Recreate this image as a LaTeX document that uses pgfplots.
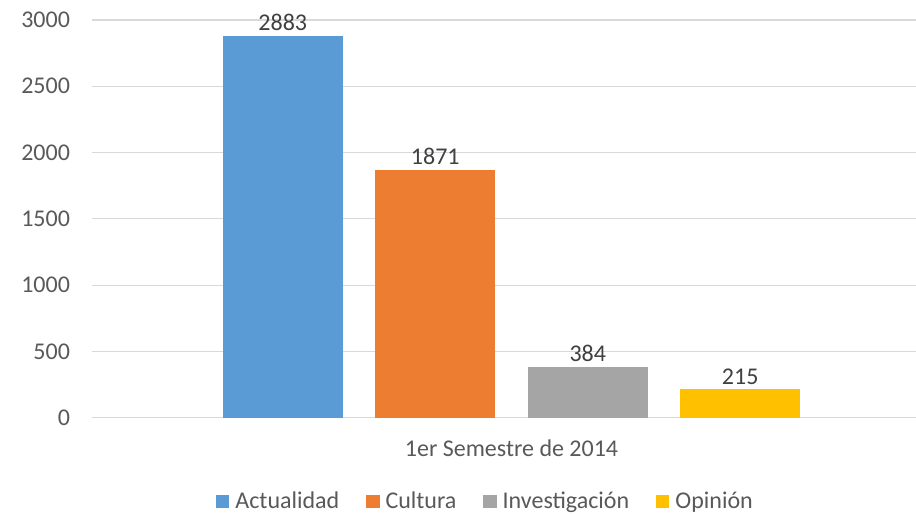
\documentclass[border=0pt]{standalone}
\usepackage{pgfplots}
\pgfplotsset{compat=1.18}
\usepackage{fontspec}
\setmainfont{Carlito}
\definecolor{txt}{RGB}{89,89,89}
\definecolor{lbl}{RGB}{64,64,64}
\definecolor{gridc}{RGB}{217,217,217}
\definecolor{cBlue}{RGB}{91,155,213}
\definecolor{cOrange}{RGB}{237,125,49}
\definecolor{cGray}{RGB}{165,165,165}
\definecolor{cGold}{RGB}{255,192,0}

\begin{document}
\begin{tikzpicture}
\begin{axis}[
    scale only axis,
    width=412pt, height=198.85pt,
    xmin=-0.5, xmax=0.4821,
    ymin=0, ymax=3000,
    ytick={0,500,1000,1500,2000,2500,3000},
    xtick={0}, xticklabels={1er Semestre de 2014},
    ymajorgrids=true,
    grid style={draw=gridc, line width=0.6pt},
    axis line style={draw=none},
    tick style={draw=none},
    /pgf/number format/1000 sep={},
    /pgf/number format/assume math mode=true,
    yticklabel style={font=\fontsize{12}{14}\selectfont, text=txt, anchor=east, xshift=-7.5pt},
    xticklabel style={font=\fontsize{12}{14}\selectfont, text=txt, anchor=center, yshift=-15.5pt},
    bar width=0.1436,
    nodes near coords,
    every node near coord/.append style={font=\fontsize{12}{14}\selectfont, text=lbl, anchor=south, yshift=-1.2pt},
    legend columns=4,
    legend style={at={(0.4788,-0.2113)}, anchor=center, draw=none,
        font=\fontsize{12}{14}\selectfont, text=txt,
        /tikz/every odd column/.append style={column sep=1pt},
        /tikz/every even column/.append style={column sep=11.5pt}},
    legend image code/.code={\fill[#1,draw=none] (0pt,-3.3pt) rectangle (6.6pt,3.3pt);},
]
\addplot[ybar, bar shift=0pt, fill=cBlue, draw=none] coordinates {(-0.2726,2883)};
\addplot[ybar, bar shift=0pt, fill=cOrange, draw=none] coordinates {(-0.0909,1871)};
\addplot[ybar, bar shift=0pt, fill=cGray, draw=none] coordinates {(0.0909,384)};
\addplot[ybar, bar shift=0pt, fill=cGold, draw=none] coordinates {(0.2726,215)};
\legend{Actualidad, Cultura, Investigación, Opinión}
\end{axis}
\pgfresetboundingbox
\path ([xshift=-46pt,yshift=-48.15pt]current axis.south west) rectangle ([yshift=10pt]current axis.north east);
\end{tikzpicture}
\end{document}
